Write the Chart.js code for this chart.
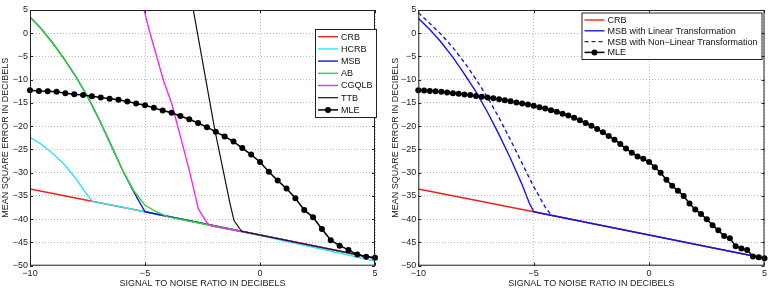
<!DOCTYPE html>
<html>
<head>
<meta charset="utf-8">
<script src="https://cdn.jsdelivr.net/npm/chart.js@4.4.0/dist/chart.umd.min.js"></script>
<style>
  body { margin: 0; background: #fff; }
  #left { position: absolute; left: 0; top: 0; width: 385px; height: 291px; }
  #right { position: absolute; left: 385px; top: 0; width: 384px; height: 291px; }
</style>
</head>
<body>
<div id="left"><canvas id="c1"></canvas></div>
<div id="right"><canvas id="c2"></canvas></div>
<script>
// ---- left panel ----
const crbSnr = [-10, -5, 0, 5];
const crbMse = [-33.5, -38.4, -43.4, -48.4];

const hcrbSnr = [-10, -9.5, -9, -8.5, -8, -7.6, -7.3, -5, 0, 5];
const hcrbMse = [-22.4, -23.9, -25.9, -28.3, -31.3, -34.2, -36.1, -38.4, -43.5, -49.0];

const msbSnr = [-10, -9.5, -9, -8.5, -8, -7.5, -7, -6.5, -6, -5.5, -5, 0, 5];
const msbMse = [3.5, 0.9, -2.2, -5.6, -9.4, -13.6, -18.5, -23.8, -29.2, -34.0, -38.4, -43.4, -48.4];

const abSnr = [-10, -9.5, -9, -8.5, -8, -7.5, -7, -6.5, -6, -5.5, -5, -4.5, -4, -3.5, -3, 0, 5];
const abMse = [3.5, 0.9, -2.2, -5.6, -9.4, -13.6, -18.5, -23.8, -29.2, -33.8, -37.0, -38.4, -39.5, -40.0, -40.5, -43.4, -48.4];

const cgqlbSnr = [-5.04, -4.78, -4.2, -3.84, -3.3, -3.04, -2.68, -2.29, -2.1, 0, 5];
const cgqlbMse = [5, 0, -10.1, -15.1, -25.2, -30.2, -37.8, -40.9, -41.5, -43.4, -48.4];

const ttbSnr = [-2.9, -1.96, -1.3, -1.13, -0.8, 0, 5];
const ttbMse = [5, -20.9, -36.7, -40.3, -42.6, -43.4, -48.4];

const mleSnrA = [-10, -9.615, -9.231, -8.846, -8.462, -8.077, -7.692, -7.308, -6.923, -6.538,
  -6.154, -5.769, -5.385, -5, -4.615, -4.231, -3.846, -3.462, -3.077, -2.692,
  -2.308, -1.923, -1.538, -1.154, -0.769, -0.385, 0, 0.385, 0.769, 1.154,
  1.538, 1.923, 2.308, 2.692, 3.077, 3.462, 3.846, 4.231, 4.615, 5];
const mleMseA = [-12.25, -12.4, -12.5, -12.6, -12.9, -13.1, -13.3, -13.55, -13.8, -14.1,
  -14.3, -14.7, -15.1, -15.5, -16.05, -16.6, -17.1, -17.8, -18.5, -19.3,
  -20.2, -21.2, -22.2, -23.3, -24.7, -26.1, -27.7, -29.8, -31.7, -33.4,
  -35.5, -38.0, -39.6, -42.1, -44.5, -45.7, -46.6, -47.6, -48.1, -48.3];

// ---- right panel ----
const linSnr = [-10, -9.5, -9, -8.5, -8, -7.5, -7, -6.5, -6, -5.5, -5.2, -5.0, 0, 5];
const linMse = [3.2, 0.8, -2.0, -5.2, -8.8, -12.6, -17.0, -21.8, -27.0, -32.6, -36.4, -38.4, -43.4, -48.4];

const nonlinSnr = [-10, -9.5, -9, -8.5, -8, -7.5, -7, -6.5, -6, -5.5, -5, -4.5, -4.26];
const nonlinMse = [4.4, 2.1, -0.3, -3.1, -6.3, -9.9, -13.8, -18.2, -23.0, -28.0, -33.0, -37.4, -39.0];

const mleSnrB = [-10, -9.75, -9.5, -9.25, -9, -8.75, -8.5, -8.25, -8, -7.75,
  -7.5, -7.25, -7, -6.75, -6.5, -6.25, -6, -5.75, -5.5, -5.25,
  -5, -4.75, -4.5, -4.25, -4, -3.75, -3.5, -3.25, -3, -2.75,
  -2.5, -2.25, -2, -1.75, -1.5, -1.25, -1, -0.75, -0.5, -0.25,
  0, 0.25, 0.5, 0.75, 1, 1.25, 1.5, 1.75, 2, 2.25,
  2.5, 2.75, 3, 3.25, 3.5, 3.75, 4, 4.25, 4.5, 4.75, 5];
const mleMseB = [-12.25, -12.3, -12.4, -12.5, -12.6, -12.75, -12.9, -13.0, -13.15, -13.3,
  -13.5, -13.65, -13.8, -14.0, -14.2, -14.4, -14.65, -14.9, -15.1, -15.35,
  -15.6, -15.9, -16.2, -16.55, -16.9, -17.3, -17.7, -18.2, -18.7, -19.3,
  -19.9, -20.6, -21.3, -22.1, -22.9, -23.8, -24.8, -25.7, -26.5, -27.0,
  -27.7, -28.8, -30.0, -31.5, -32.8, -33.9, -35.0, -36.6, -37.9, -38.9,
  -40.0, -41.3, -42.4, -43.6, -44.1, -45.8, -46.3, -46.6, -48.0, -48.2, -48.4];

const xTicks = [-10, -5, 0, 5];
const yTicks = [5, 0, -5, -10, -15, -20, -25, -30, -35, -40, -45, -50];

const FONT = "'Liberation Sans', Arial, Helvetica, sans-serif";

function pts(xs, ys) {
  return xs.map((x, i) => ({ x: x, y: ys[i] }));
}

function curve(label, xs, ys, color, order, extra) {
  return Object.assign({
    label: label,
    data: pts(xs, ys),
    borderColor: color,
    backgroundColor: color,
    borderWidth: 1.4,
    pointRadius: 0,
    tension: 0,
    order: order,
  }, extra || {});
}

function mle(xs, ys, order) {
  return curve("MLE", xs, ys, "#000", order, {
    borderWidth: 1.5,
    pointRadius: 3,
    pointBorderWidth: 0,
    pointBackgroundColor: "#000",
    clip: 6,
  });
}

const minus = (v) => String(v).replace("-", "\u2212");

// frame + inward ticks
const framePlugin = {
  id: "frame",
  afterDraw(chart) {
    const { ctx, chartArea: a, scales } = chart;
    ctx.save();
    ctx.strokeStyle = "#222";
    ctx.lineWidth = 1;
    ctx.strokeRect(a.left + 0.5, a.top + 0.5, a.right - a.left - 1, a.bottom - a.top - 1);
    ctx.beginPath();
    xTicks.forEach((t) => {
      const px = Math.round(scales.x.getPixelForValue(t)) + 0.5;
      ctx.moveTo(px, a.bottom); ctx.lineTo(px, a.bottom - 3);
      ctx.moveTo(px, a.top); ctx.lineTo(px, a.top + 3);
    });
    yTicks.forEach((t) => {
      const py = Math.round(scales.y.getPixelForValue(t)) + 0.5;
      ctx.moveTo(a.left, py); ctx.lineTo(a.left + 3, py);
      ctx.moveTo(a.right, py); ctx.lineTo(a.right - 3, py);
    });
    ctx.stroke();
    ctx.restore();
  },
};

// legend box drawn inside the axes
const boxLegend = {
  id: "boxLegend",
  afterDraw(chart, args, o) {
    const ctx = chart.ctx;
    ctx.save();
    ctx.fillStyle = "#fff";
    ctx.fillRect(o.left, o.top, o.width, o.height);
    ctx.strokeStyle = "#222";
    ctx.lineWidth = 1;
    ctx.strokeRect(o.left + 0.5, o.top + 0.5, o.width, o.height);
    ctx.font = "9px " + FONT;
    ctx.textBaseline = "middle";
    chart.data.datasets.forEach((ds, i) => {
      const y = o.first + i * o.rowH;
      const x0 = o.left + o.lineX;
      ctx.strokeStyle = ds.borderColor;
      ctx.lineWidth = ds.borderWidth;
      ctx.setLineDash(ds.borderDash || []);
      ctx.beginPath();
      ctx.moveTo(x0, y);
      ctx.lineTo(x0 + o.lineLen, y);
      ctx.stroke();
      ctx.setLineDash([]);
      if (ds.pointRadius > 0) {
        ctx.fillStyle = "#000";
        ctx.beginPath();
        ctx.arc(x0 + o.lineLen / 2, y, ds.pointRadius, 0, Math.PI * 2);
        ctx.fill();
      }
      ctx.fillStyle = "#111";
      ctx.fillText(ds.label, x0 + o.lineLen + 3, y + 0.5);
    });
    ctx.restore();
  },
};

function makeOptions(yWidth, titlePad, legend, padRight) {
  return {
    responsive: true,
    maintainAspectRatio: false,
    animation: false,
    layout: { padding: { top: 10, right: padRight, left: 0, bottom: 0 } },
    plugins: {
      legend: { display: false },
      tooltip: { enabled: false },
      boxLegend: legend,
    },
    scales: {
      x: {
        type: "linear",
        min: -10,
        max: 5,
        afterBuildTicks: (s) => { s.ticks = xTicks.map((v) => ({ value: v })); },
        afterFit: (s) => { s.height = 25.3; },
        ticks: { callback: minus, font: { size: 9, family: FONT }, color: "#222", padding: 2, maxRotation: 0 },
        grid: { color: "#b8b8b8", drawTicks: false, lineWidth: 1 },
        border: { display: false, dash: [1, 2] },
        title: {
          display: true,
          text: "SIGNAL TO NOISE RATIO IN DECIBELS",
          font: { size: 9, family: FONT },
          color: "#222",
          padding: { top: 0, bottom: 2.5 },
        },
      },
      y: {
        type: "linear",
        min: -50,
        max: 5,
        afterBuildTicks: (s) => { s.ticks = yTicks.map((v) => ({ value: v })); },
        afterFit: (s) => { s.width = yWidth; },
        ticks: { callback: minus, font: { size: 9, family: FONT }, color: "#222", padding: 2 },
        grid: { color: "#b8b8b8", drawTicks: false, lineWidth: 1 },
        border: { display: false, dash: [1, 2] },
        title: {
          display: true,
          text: "MEAN SQUARE ERROR IN DECIBELS",
          font: { size: 9, family: FONT },
          color: "#222",
          padding: { top: titlePad, bottom: 0 },
        },
      },
    },
  };
}

new Chart(document.getElementById("c1"), {
  type: "line",
  data: {
    datasets: [
      curve("CRB", crbSnr, crbMse, "#f02020", 7),
      curve("HCRB", hcrbSnr, hcrbMse, "#30e8f0", 6),
      curve("MSB", msbSnr, msbMse, "#1818d8", 5),
      curve("AB", abSnr, abMse, "#30d830", 4),
      curve("CGQLB", cgqlbSnr, cgqlbMse, "#e830e8", 3),
      curve("TTB", ttbSnr, ttbMse, "#111", 2, { borderWidth: 1.2 }),
      mle(mleSnrA, mleMseA, 1),
    ],
  },
  options: makeOptions(30, 0,
    { left: 315, top: 29, width: 61, height: 88, first: 36.7, rowH: 12.2, lineX: 3, lineLen: 20 }, 10),
  plugins: [framePlugin, boxLegend],
});

new Chart(document.getElementById("c2"), {
  type: "line",
  data: {
    datasets: [
      curve("CRB", crbSnr, crbMse, "#f02020", 4),
      curve("MSB with Linear Transformation", linSnr, linMse, "#1818d8", 3),
      curve("MSB with Non\u2212Linear Transformation", nonlinSnr, nonlinMse, "#1818d8", 2, { borderDash: [4, 3] }),
      mle(mleSnrB, mleMseB, 1),
    ],
  },
  options: makeOptions(33.3, 5.5,
    { left: 196.5, top: 12.5, width: 180, height: 46.5, first: 20, rowH: 10.8, lineX: 3, lineLen: 20 }, 4),
  plugins: [framePlugin, boxLegend],
});
</script>
</body>
</html>
